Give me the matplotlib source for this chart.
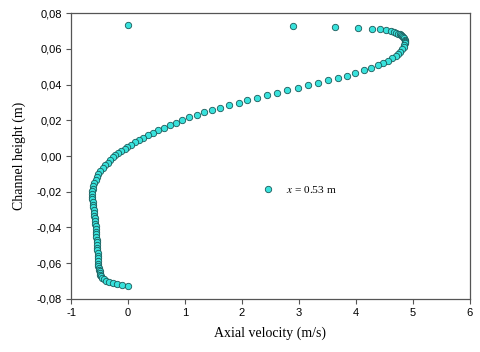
import matplotlib
matplotlib.use("Agg")
import matplotlib.pyplot as plt
from matplotlib.ticker import FuncFormatter, MultipleLocator

# Axial velocity (m/s) and channel height (m)
velocity = [
    0.00, 2.90, 3.64, 4.04, 4.28, 4.42, 4.53, 4.61, 4.67, 4.71, 4.74, 4.77, 4.79, 4.81,
    4.83, 4.845, 4.855, 4.86, 4.865, 4.86, 4.85, 4.84, 4.81, 4.78, 4.74, 4.70, 4.64,
    4.56, 4.48, 4.38, 4.26, 4.14, 3.99, 3.84, 3.68, 3.51, 3.33, 3.16, 2.98, 2.79, 2.61,
    2.44, 2.26, 2.09, 1.94, 1.78, 1.62, 1.47, 1.33, 1.21, 1.07, 0.95, 0.84, 0.73, 0.63,
    0.53, 0.44, 0.35, 0.27, 0.19, 0.12, 0.05, -0.01, -0.06, -0.12, -0.17, -0.22, -0.27,
    -0.32, -0.36, -0.40, -0.44, -0.49, -0.52, -0.55, -0.57, -0.59, -0.61, -0.62, -0.63,
    -0.64, -0.635, -0.63, -0.62, -0.615, -0.61, -0.60, -0.595, -0.59, -0.585, -0.58,
    -0.575, -0.57, -0.565, -0.56, -0.56, -0.555, -0.55, -0.55, -0.545, -0.54, -0.54,
    -0.535, -0.53, -0.53, -0.525, -0.52, -0.52, -0.51, -0.505, -0.50, -0.495, -0.485,
    -0.47, -0.45, -0.42, -0.38, -0.33, -0.27, -0.20, -0.11, 0.00,
]
height = [
    0.0733, 0.0729, 0.0723, 0.0716, 0.0712, 0.0709, 0.0703, 0.0699, 0.0694, 0.0690,
    0.0685, 0.0680, 0.0675, 0.0670, 0.0664, 0.0658, 0.0651, 0.0645, 0.0638, 0.0630,
    0.0620, 0.0610, 0.0596, 0.0582, 0.0568, 0.0557, 0.0547, 0.0533, 0.0522, 0.0507,
    0.0494, 0.0479, 0.0464, 0.0449, 0.0436, 0.0424, 0.0408, 0.0396, 0.0380, 0.0368,
    0.0354, 0.0340, 0.0326, 0.0312, 0.0298, 0.0284, 0.0270, 0.0257, 0.0244, 0.0231,
    0.0217, 0.0201, 0.0186, 0.0172, 0.0157, 0.0144, 0.0129, 0.0116, 0.0102, 0.0090,
    0.0077, 0.0063, 0.0052, 0.0041, 0.0030, 0.0018, 0.0006, -0.0007, -0.0022, -0.0037,
    -0.0052, -0.0069, -0.0086, -0.0100, -0.0118, -0.0134, -0.0150, -0.0166, -0.0182,
    -0.0198, -0.0213, -0.0228, -0.0243, -0.0258, -0.0273, -0.0288, -0.0303, -0.0318,
    -0.0333, -0.0348, -0.0363, -0.0378, -0.0393, -0.0408, -0.0423, -0.0438, -0.0453,
    -0.0468, -0.0483, -0.0498, -0.0513, -0.0528, -0.0543, -0.0558, -0.0573, -0.0588,
    -0.0603, -0.0615, -0.0626, -0.0636, -0.0646, -0.0655, -0.0664, -0.0673, -0.0681,
    -0.0690, -0.0698, -0.0705, -0.0711, -0.0716, -0.0722, -0.0729,
]
series_label = r"$x$ = 0.53 m"
x_ticks = [-1, 0, 1, 2, 3, 4, 5, 6]
x_label = "Axial velocity (m/s)"
y_label = "Channel height (m)"

plt.rcParams['mathtext.fontset'] = 'stix'

fig = plt.figure(figsize=(4.8, 3.52), dpi=100)
ax = fig.add_axes([0.148, 0.1506, 0.831, 0.8124])

ax.plot(velocity, height, linestyle='none', marker='o', markersize=4.6,
        markerfacecolor='#38e2dc', markeredgecolor='#1b5a5a', markeredgewidth=0.6,
        label=series_label)

ax.set_xlim(-1, 6)
ax.set_ylim(-0.08, 0.08)
ax.set_xticks(x_ticks)
ax.yaxis.set_major_locator(MultipleLocator(0.02))
ax.yaxis.set_major_formatter(FuncFormatter(lambda v, p: f"{v:.2f}".replace('.', ',').replace('-0,00', '0,00')))
ax.xaxis.set_major_formatter(FuncFormatter(lambda v, p: f"{int(round(v))}"))

for s in ax.spines.values():
    s.set_color('#555555')
    s.set_linewidth(0.9)
ax.tick_params(axis='both', direction='out', length=3.5, width=0.8, color='#555555',
               labelsize=8, pad=3)
for lab in ax.get_xticklabels() + ax.get_yticklabels():
    lab.set_fontfamily('Liberation Sans')
ax.tick_params(top=False, right=False)

ax.set_xlabel(x_label, fontfamily='Liberation Serif', fontsize=10, labelpad=6)
ax.set_ylabel(y_label, fontfamily='Liberation Serif', fontsize=10, labelpad=8)

leg = ax.legend(loc='center left', bbox_to_anchor=(0.453, 0.383), frameon=False,
                handlelength=1.0, handletextpad=1.1,
                prop={'family': 'Liberation Serif', 'size': 8.2})

fig.savefig('out.png', dpi=100)
